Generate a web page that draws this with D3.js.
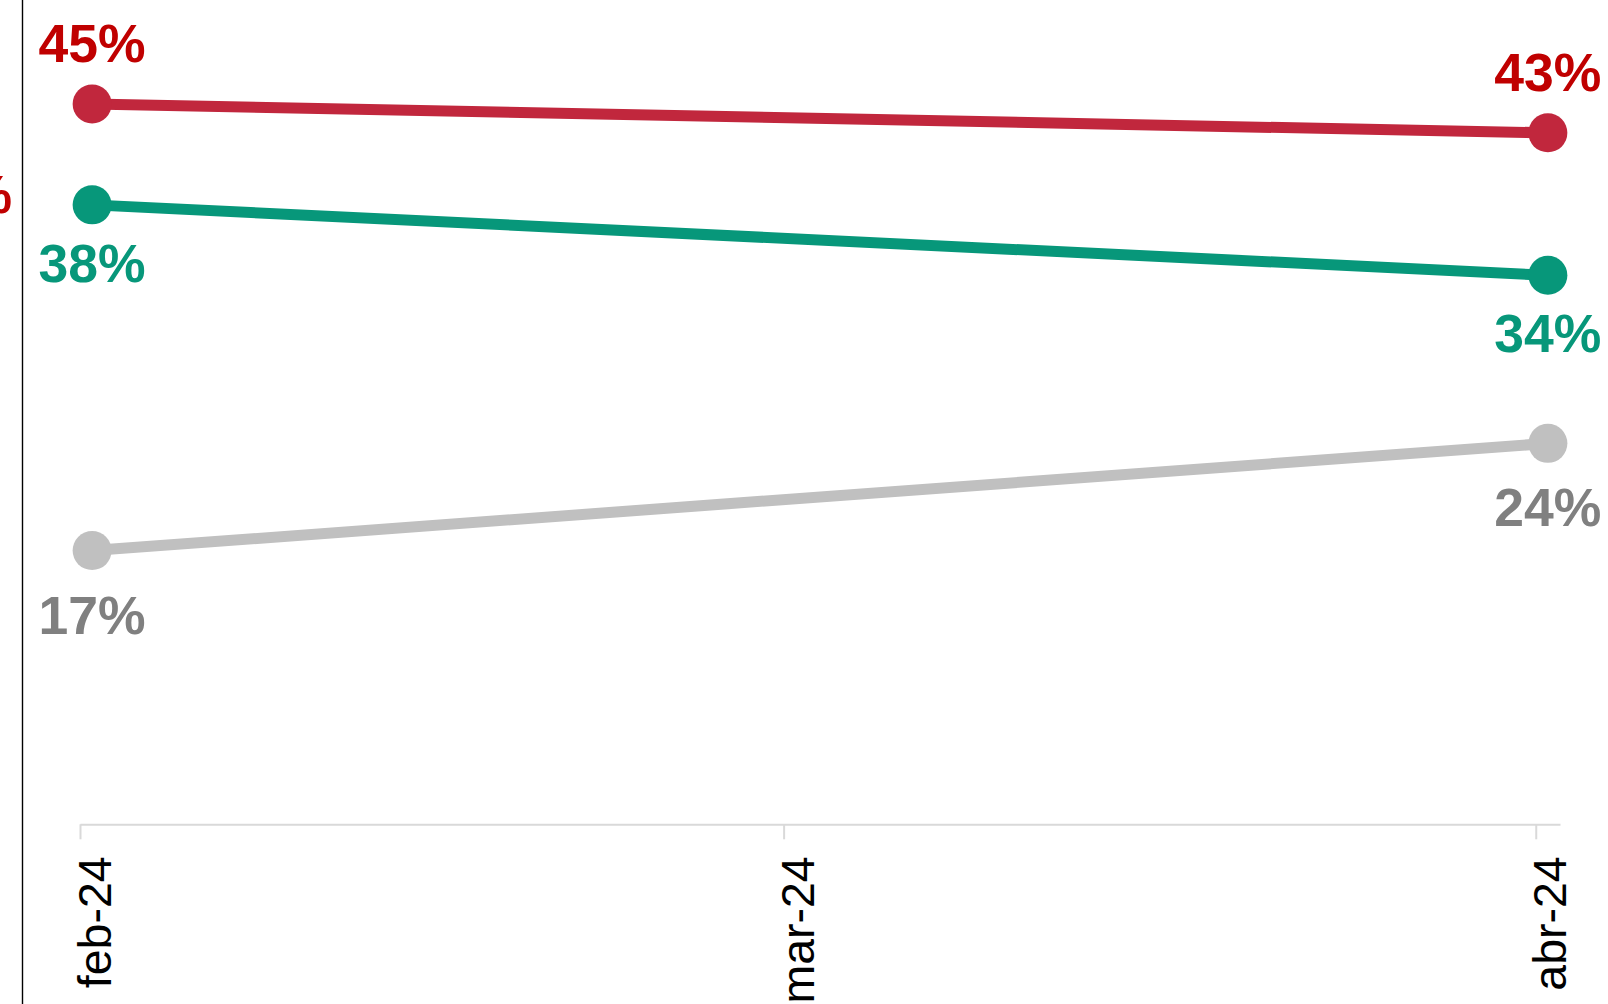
<!DOCTYPE html>
<html>
<head>
<meta charset="utf-8">
<script src="https://cdn.jsdelivr.net/npm/d3@7"></script>
<style>
  html, body { margin: 0; padding: 0; background: #fff; }
  svg { display: block; }
  text { font-family: "Liberation Sans", Arial, sans-serif; }
</style>
</head>
<body>
<svg id="chart" width="1608" height="1004"></svg>
<script>
// ---- data ----
const tickDates = ["2024-02-01", "2024-03-01", "2024-04-01"];
const tickLabels = ["feb-24", "mar-24", "abr-24"];
const pointDates = ["2024-02-01T12:00", "2024-04-01T12:00"];
const seriesNames = ["rojo", "verde", "gris"];
const redValues = [45.0, 43.2];
const greenValues = [38.7, 34.3];
const greyValues = [17.1, 23.8];
const redLabels = ["45%", "43%"];
const greenLabels = ["38%", "34%"];
const greyLabels = ["17%", "24%"];
const clippedLabel = "40%";

// ---- styles ----
const styles = [
  { values: redValues, labels: redLabels, line: "#C1273D", text: "#C00000", dy: -42 },
  { values: greenValues, labels: greenLabels, line: "#07977A", text: "#07977A", dy: 77 },
  { values: greyValues, labels: greyLabels, line: "#C0C0C0", text: "#808080", dy: 83 }
];

const svg = d3.select("#chart");
const parse = d3.timeParse("%Y-%m-%d");
const parseT = d3.timeParse("%Y-%m-%dT%H:%M");

const x = d3.scaleTime()
  .domain([parse("2024-02-01"), parse("2024-04-02")])
  .range([80, 1560]);
const y = d3.scaleLinear().domain([0, 51.5]).range([824.3, 0]);

// left vertical rule
svg.append("line")
  .attr("x1", 22.5).attr("x2", 22.5).attr("y1", 0).attr("y2", 1004)
  .attr("stroke", "#000").attr("stroke-width", 1.4);

// clipped label at left (cut off by the page edge, as in the reference)
svg.append("text")
  .attr("x", 12).attr("y", 213)
  .attr("text-anchor", "end")
  .attr("font-size", 53.5).attr("font-weight", "bold")
  .attr("fill", "#C00000")
  .text(clippedLabel);

// x axis
const axis = d3.axisBottom(x)
  .tickValues(tickDates.map(parse))
  .tickFormat((d, i) => tickLabels[i])
  .tickSize(15)
  .tickSizeOuter(0);

const gx = svg.append("g").attr("transform", "translate(0,824.3)").call(axis);
gx.select(".domain").attr("stroke", "#d9d9d9").attr("stroke-width", 2);
gx.selectAll(".tick line").attr("stroke", "#d9d9d9").attr("stroke-width", 2);
gx.selectAll(".tick text")
  .attr("x", null).attr("y", null).attr("dy", null)
  .attr("transform", "translate(30,32) rotate(-90)")
  .attr("text-anchor", "end")
  .attr("font-family", "'Liberation Sans', Arial, sans-serif")
  .attr("font-size", 46.5)
  .attr("fill", "#000");

const pts = pointDates.map(parseT);
const line = d3.line().x((d, i) => x(pts[i])).y(d => y(d));

styles.forEach(s => {
  const g = svg.append("g");
  g.append("path")
    .datum(s.values)
    .attr("d", line)
    .attr("fill", "none")
    .attr("stroke", s.line)
    .attr("stroke-width", 11);
  g.selectAll("circle")
    .data(s.values)
    .join("circle")
    .attr("cx", (d, i) => x(pts[i]))
    .attr("cy", d => y(d))
    .attr("r", 19.5)
    .attr("fill", s.line);
  g.selectAll("text")
    .data(s.values)
    .join("text")
    .attr("x", (d, i) => x(pts[i]))
    .attr("y", d => y(d) + s.dy)
    .attr("text-anchor", "middle")
    .attr("font-size", 53.5)
    .attr("font-weight", "bold")
    .attr("fill", s.text)
    .text((d, i) => s.labels[i]);
});
</script>
</body>
</html>
